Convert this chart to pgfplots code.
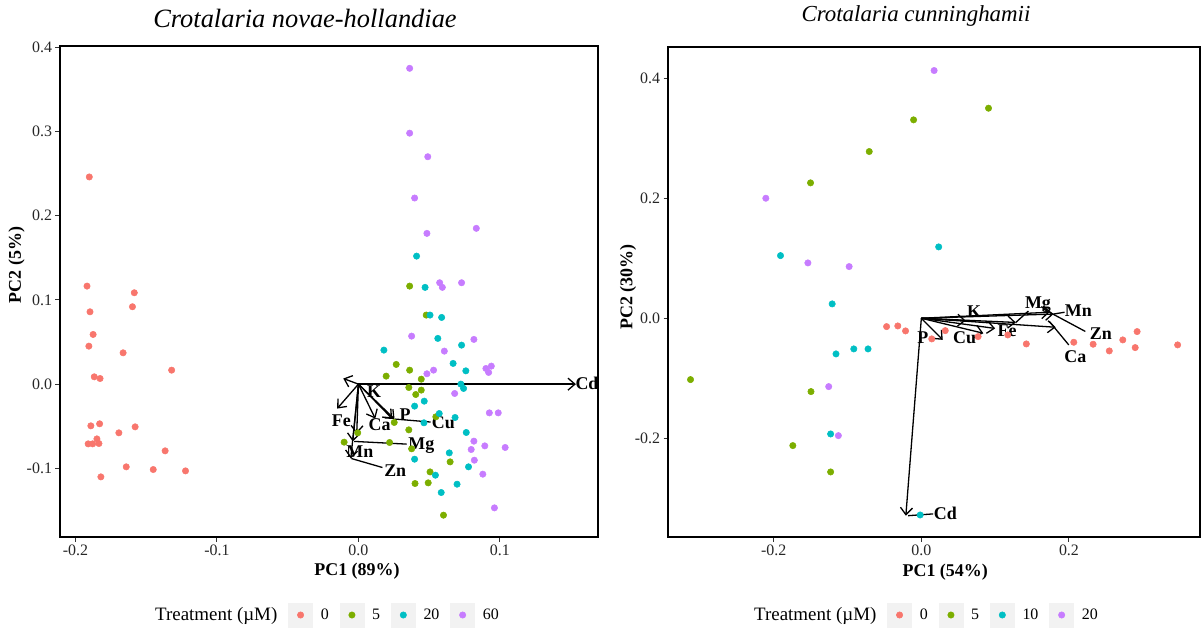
\documentclass[border=0pt]{standalone}
\usepackage{pgfplots}
\pgfplotsset{compat=1.18}
\usetikzlibrary{arrows.meta}
\usepackage{fontspec}
\setmainfont{Liberation Serif}
\newcommand{\fs}[1]{\fontsize{#1}{#1}\selectfont}
\definecolor{c0}{HTML}{F8766D}
\definecolor{c1}{HTML}{7CAE00}
\definecolor{c2}{HTML}{00BFC4}
\definecolor{c3}{HTML}{C77CFF}
\tikzset{lbl/.style={font=\bfseries\fs{18}, inner sep=0bp}}
\pgfplotsset{
 biplot/.style={
  scale only axis, anchor=south west,
  axis line style={line width=2.6bp, black},
  tick pos=left, tick align=outside,
  major tick length=4.5bp,
  tick style={black!80, line width=1bp},
  ticklabel style={font=\fs{16}, text=black!85},
  legend columns=5,
  legend cell align=left,
  legend style={draw=none, fill=none, inner sep=0bp, nodes={inner sep=0bp, font=\fs{16}},
    /tikz/every odd column/.append style={column sep=8bp},
    /tikz/every even column/.append style={column sep=11bp}},
  legend image code/.code={\fill[black!5] (0bp,-12bp) rectangle (24bp,12bp); \draw[##1] plot coordinates {(12bp,0bp)};},
  xlabel style={font=\bfseries\fs{18}, anchor=base},
  ylabel style={font=\bfseries\fs{18}, anchor=center},
 },
 pts/.style={only marks, mark=*, mark size=3.2bp, color=#1, mark options={solid, draw=#1, fill=#1, line width=0.5bp}},
 arr/.style={forget plot, black, line width=1.3bp, -{Straight Barb[length=7bp,width=12bp]}},
 seg/.style={forget plot, black, line width=1.3bp},
}
\begin{document}
\begin{tikzpicture}
\useasboundingbox (0bp,0bp) rectangle (1204bp,630bp);
\node[font=\itshape\fs{26.5}, anchor=base] at (305bp,602bp) {Crotalaria novae-hollandiae};
\node[font=\itshape\fs{23}, anchor=base] at (916bp,608bp) {Crotalaria cunninghamii};
% ---------------- left panel ----------------
\begin{axis}[biplot, at={(60bp,93bp)}, width=538bp, height=491bp,
  xmin=-0.2109, xmax=0.1693, ymin=-0.1815, ymax=0.4015,
  xtick={-0.2,-0.1,0,0.1}, xticklabels={-0.2,-0.1,0.0,0.1},
  ytick={-0.1,0,0.1,0.2,0.3,0.4}, yticklabels={-0.1,0.0,0.1,0.2,0.3,0.4},
  xlabel={PC1 (89\%)}, ylabel={PC2\hspace{5bp}(5\%)},
  xlabel style={at={(axis description cs:0.552,-0.0774)}},
  ylabel style={at={(axis description cs:-0.0809,0.554)}},
  legend style={at={(axis description cs:0.1617,-0.1589)}, anchor=west},
]
\addlegendimage{empty legend}\addlegendentry{\fs{19}Treatment (µM)}
\addplot[pts=c0] table {
-0.1902 0.2460
-0.1918 0.1164
-0.1584 0.1085
-0.1597 0.0919
-0.1897 0.0859
-0.1875 0.0590
-0.1905 0.0451
-0.1663 0.0372
-0.1320 0.0166
-0.1867 0.0087
-0.1826 0.0067
-0.1891 -0.0495
-0.1829 -0.0471
-0.1578 -0.0507
-0.1693 -0.0578
-0.1848 -0.0650
-0.1910 -0.0709
-0.1878 -0.0709
-0.1834 -0.0705
-0.1366 -0.0792
-0.1641 -0.0982
-0.1450 -0.1014
-0.1222 -0.1030
-0.1820 -0.1101
};
\addlegendentry{0}
\addplot[pts=c1] table {
0.0362 0.1164
0.0479 0.0820
0.0196 0.0095
0.0267 0.0234
0.0362 0.0166
0.0444 0.0059
0.0356 -0.0040
0.0444 -0.0071
0.0405 -0.0123
0.0253 -0.0455
0.0356 -0.0543
0.0547 -0.0388
-0.0005 -0.0578
-0.0101 -0.0689
0.0220 -0.0693
0.0376 -0.0768
0.0648 -0.0923
0.0506 -0.1042
0.0400 -0.1180
0.0493 -0.1172
0.0601 -0.1556
};
\addlegendentry{5}
\addplot[pts=c2] table {
0.0411 0.1520
0.0471 0.1149
0.0506 0.0820
0.0588 0.0792
0.0180 0.0404
0.0561 0.0543
0.0729 0.0463
0.0669 0.0246
0.0759 0.0158
0.0724 0.0000
0.0743 -0.0051
0.0397 -0.0261
0.0465 -0.0202
0.0571 -0.0349
0.0683 -0.0396
0.0463 -0.0459
0.0762 -0.0574
0.0642 -0.0816
0.0397 -0.0891
0.0778 -0.0982
0.0544 -0.1081
0.0697 -0.1188
0.0585 -0.1287
};
\addlegendentry{20}
\addplot[pts=c3] table {
0.0362 0.3750
0.0362 0.2980
0.0490 0.2700
0.0397 0.2210
0.0484 0.1790
0.0833 0.1850
0.0574 0.1204
0.0593 0.1149
0.0729 0.1204
0.0376 0.0570
0.0816 0.0531
0.0607 0.0392
0.0901 0.0186
0.0939 0.0214
0.0920 0.0139
0.0531 0.0166
0.0484 0.0123
0.0680 -0.0111
0.0925 -0.0341
0.0988 -0.0341
0.0816 -0.0677
0.0893 -0.0733
0.1037 -0.0752
0.0797 -0.0776
0.0819 -0.0903
0.0879 -0.1069
0.0961 -0.1469
};
\addlegendentry{60}
% loadings
\addplot[arr] coordinates {(0,0) (0.1537,0)};
\addplot[arr] coordinates {(0,0) (-0.0107,0.0067)};
\addplot[arr] coordinates {(0,0) (-0.0150,-0.0290)};
\addplot[arr] coordinates {(0,0) (0.0119,-0.0409)};
\addplot[arr] coordinates {(0,0) (0.0238,-0.0409)};
\addplot[arr] coordinates {(0,0) (0.0255,-0.0415)};
\addplot[arr] coordinates {(0,0) (-0.0012,-0.0587)};
\addplot[arr] coordinates {(0,0) (-0.0040,-0.0680)};
\addplot[arr] coordinates {(0,0) (-0.0054,-0.0883)};
\addplot[seg] coordinates {(0.026,-0.0415) (0.051,-0.0450)};
\addplot[seg] coordinates {(-0.003,-0.0680) (0.034,-0.0712)};
\addplot[seg] coordinates {(-0.005,-0.0883) (0.017,-0.0990)};
\node[lbl] at (axis cs:0.1615,0.0010) {Cd};
\node[lbl] at (axis cs:0.0110,-0.0090) {K};
\node[lbl] at (axis cs:-0.0120,-0.0430) {Fe};
\node[lbl] at (axis cs:0.0150,-0.0480) {Ca};
\node[lbl] at (axis cs:0.0330,-0.0360) {P};
\node[lbl] at (axis cs:0.0600,-0.0460) {Cu};
\node[lbl] at (axis cs:0.0445,-0.0725) {Mg};
\node[lbl] at (axis cs:0.0010,-0.0805) {Mn};
\node[lbl] at (axis cs:0.0260,-0.1030) {Zn};
\end{axis}
% ---------------- right panel ----------------
\begin{axis}[biplot, at={(668bp,93bp)}, width=532bp, height=490bp,
  xmin=-0.3432, xmax=0.3775, ymin=-0.3645, ymax=0.452,
  xtick={-0.2,0,0.2}, xticklabels={-0.2,0.0,0.2},
  ytick={-0.2,0,0.2,0.4}, yticklabels={-0.2,0.0,0.2,0.4},
  xlabel={PC1 (54\%)}, ylabel={PC2 (30\%)},
  xlabel style={at={(axis description cs:0.521,-0.0816)}},
  ylabel style={at={(axis description cs:-0.0752,0.510)}},
  legend style={at={(axis description cs:0.1466,-0.1592)}, anchor=west},
]
\addlegendimage{empty legend}\addlegendentry{\fs{19}Treatment (µM)}
\addplot[pts=c0] table {
-0.0471 -0.0139
-0.0319 -0.0128
-0.0214 -0.0211
0.0141 -0.0344
0.0324 -0.0206
0.0769 -0.0306
0.1171 -0.0278
0.1422 -0.0428
0.2065 -0.0400
0.2327 -0.0433
0.2546 -0.0544
0.2729 -0.0361
0.2897 -0.0489
0.2923 -0.0222
0.3472 -0.0444
};
\addlegendentry{0}
\addplot[pts=c1] table {
0.0910 0.3500
-0.0105 0.3306
-0.0706 0.2778
-0.1501 0.2256
-0.3127 -0.1022
-0.1495 -0.1222
-0.1741 -0.2122
-0.1229 -0.2561
};
\addlegendentry{5}
\addplot[pts=c2] table {
0.0235 0.1189
-0.1908 0.1044
-0.1208 0.0239
-0.1156 -0.0594
-0.0915 -0.0511
-0.0722 -0.0511
-0.1229 -0.1928
-0.0016 -0.3278
};
\addlegendentry{10}
\addplot[pts=c3] table {
0.0173 0.4128
-0.2107 0.2000
-0.1537 0.0922
-0.0978 0.0861
-0.1255 -0.1139
-0.1124 -0.1956
};
\addlegendentry{20}
\addplot[arr] coordinates {(0,0) (-0.0210,-0.3290)};
\addplot[arr] coordinates {(0,0) (0.0290,-0.0360)};
\addplot[arr] coordinates {(0,0) (0.0840,-0.0250)};
\addplot[arr] coordinates {(0,0) (0.1000,-0.0170)};
\addplot[arr] coordinates {(0,0) (0.0600,-0.0040)};
\addplot[arr] coordinates {(0,0) (0.1280,-0.0070)};
\addplot[arr] coordinates {(0,0) (0.1790,0.0070)};
\addplot[arr] coordinates {(0,0) (0.1736,0.0100)};
\addplot[arr] coordinates {(0,0) (0.1820,-0.0150)};
\addplot[seg] coordinates {(0.016,-0.3260) (-0.018,-0.3290)};
\addplot[seg] coordinates {(0.145,0.0120) (0.128,-0.0070)};
\addplot[seg] coordinates {(0.194,0.0100) (0.179,0.0070)};
\addplot[seg] coordinates {(0.2222,-0.0220) (0.1736,0.0100)};
\addplot[seg] coordinates {(0.1997,-0.0444) (0.1736,-0.0056)};
\node[lbl] at (axis cs:0.0324,-0.3250) {Cd};
\node[lbl] at (axis cs:0.0020,-0.0317) {P};
\node[lbl] at (axis cs:0.0586,-0.0317) {Cu};
\node[lbl] at (axis cs:0.1161,-0.0206) {Fe};
\node[lbl] at (axis cs:0.0716,0.0111) {K};
\node[lbl] at (axis cs:0.1580,0.0222) {Mg};
\node[lbl] at (axis cs:0.2128,0.0122) {Mn};
\node[lbl] at (axis cs:0.2431,-0.0250) {Zn};
\node[lbl] at (axis cs:0.2086,-0.0639) {Ca};
\end{axis}
\end{tikzpicture}
\end{document}
